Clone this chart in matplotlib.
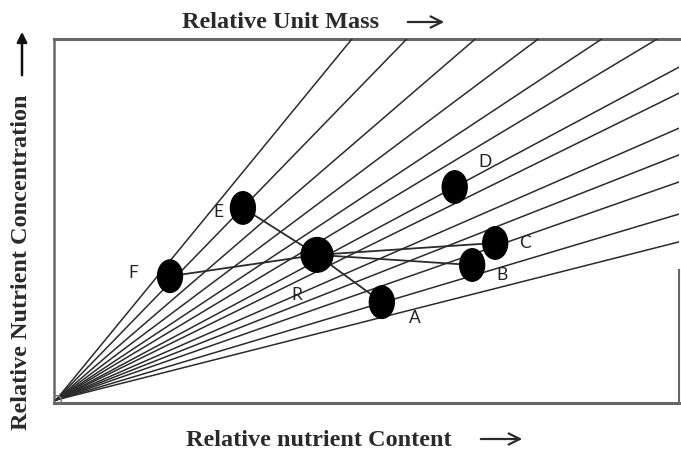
import numpy as np
import matplotlib.pyplot as plt
from matplotlib.patches import Ellipse, FancyArrowPatch
#--------------------------------------
# rays from the origin, given by where they leave the frame
top_x = [47.5, 56.3, 67.3, 77.4, 87.6, 96.5]               # cross the top edge (y = 100)
right_y = [92.2, 85.0, 75.3, 67.9, 60.4, 51.5, 43.8]       # cross the right edge (x = 100)

# points of the nomogram
names = ['E', 'F', 'R', 'A', 'B', 'C', 'D']
pt_x = [30.0, 18.3, 41.9, 52.3, 66.8, 70.5, 64.0]
pt_y = [53.2, 34.3, 40.2, 27.1, 37.4, 43.5, 59.0]
joined_to_R = ['E', 'A', 'F', 'C', 'B']

# label offsets in pixels (dx, dy)
lab_off = {'E': (-25, -4), 'F': (-37, 3), 'R': (-20, -40), 'A': (33, -16),
           'B': (30, -10), 'C': (30, 0), 'D': (30, 25)}
#--------------------------------------
W, H = 681, 454
fig = plt.figure(figsize=(W / 100, H / 100), dpi=100)
# axes box in pixels: left 54, right 679, top 39, bottom 403
ax = fig.add_axes([54 / W, 1 - 403 / H, (679 - 54) / W, (403 - 39) / H])
ax.set_xlim(-0.32, 100)
ax.set_ylim(-0.83, 100)
ax.axis('off')

line_c = '#2b2b2b'
frame_c = '#666666'

# frame (right side only partly drawn)
ax.plot([0, 1.005], [1, 1], transform=ax.transAxes, color=frame_c, lw=2.2, clip_on=False)
ax.plot([0, 0], [0, 1], transform=ax.transAxes, color=frame_c, lw=1.8, clip_on=False)
ax.plot([0, 1], [0, 0], transform=ax.transAxes, color=frame_c, lw=2.2, clip_on=False)
ax.plot([1, 1], [0, 0.365], transform=ax.transAxes, color=frame_c, lw=1.5, clip_on=False)

# rays
for x in top_x:
    ax.plot([0, x], [0, 100], color=line_c, lw=1.1)
for y in right_y:
    ax.plot([0, 100], [0, y], color=line_c, lw=1.1)
ax.plot([0], [0], 'o', ms=7, mfc='none', mec='#777777', mew=1.2)

# links through R
pos = {n: (x, y) for n, x, y in zip(names, pt_x, pt_y)}
for n in joined_to_R:
    ax.plot([pos['R'][0], pos[n][0]], [pos['R'][1], pos[n][1]], color=line_c, lw=1.3)

# dots
for n in names:
    w, h = (5.1, 9.6) if n == 'R' else (4.0, 9.0)
    ax.add_patch(Ellipse(pos[n], w, h, color='black', zorder=5))
    ax.annotate(n, pos[n], xytext=lab_off[n], textcoords='offset pixels',
                ha='center', va='center', fontsize=12.5, family='Lato', color='#222222')

# axis titles
tfont = dict(family='Liberation Serif', weight='bold', fontsize=17.5, color='#2a2a2a')
fig.text(281 / W, 1 - 22 / H, 'Relative Unit Mass', ha='center', va='center', **tfont)
fig.text(319 / W, 1 - 446 / H, 'Relative nutrient Content', ha='center', va='baseline', **tfont)
fig.text(22 / W, 1 - 262 / H, 'Relative Nutrient Concentration', ha='center', va='center',
         rotation=90, **tfont)

arr = dict(arrowstyle='->', color='#2a2a2a', lw=1.6, mutation_scale=20)
fig.add_artist(FancyArrowPatch((405 / W, 1 - 22 / H), (447 / W, 1 - 22 / H),
               transform=fig.transFigure, **arr))
fig.add_artist(FancyArrowPatch((478 / W, 1 - 439 / H), (525 / W, 1 - 439 / H),
               transform=fig.transFigure, **arr))
fig.add_artist(FancyArrowPatch((22 / W, 1 - 78 / H), (22 / W, 1 - 29 / H),
               transform=fig.transFigure, arrowstyle='-|>', color='#111111', lw=1.8,
               mutation_scale=15))

fig.savefig('out.png', dpi=100)
